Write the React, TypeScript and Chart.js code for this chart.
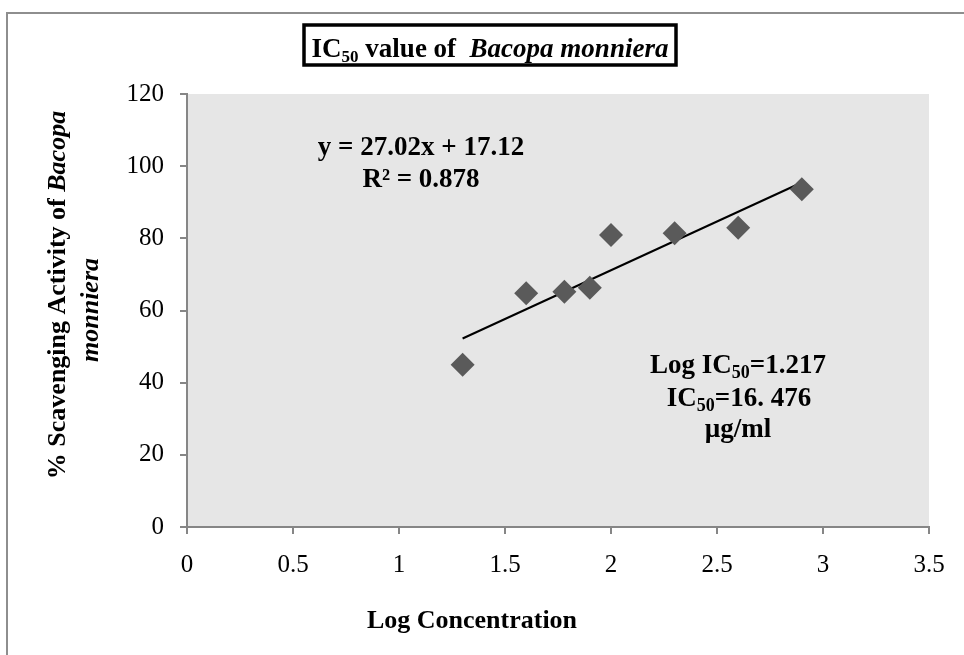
import React, { useEffect, useRef } from 'react';
import { Chart, registerables } from 'chart.js';

Chart.register(...registerables);

// ---- Data ----
const logConcentration = [1.3, 1.6, 1.78, 1.9, 2.0, 2.3, 2.6, 2.9];
const scavengingActivity = [45, 64.8, 65.2, 66.3, 80.9, 81.4, 82.9, 93.6];
const trendSlope = 27.02;
const trendIntercept = 17.12;
const xTickLabels = ['0', '0.5', '1', '1.5', '2', '2.5', '3', '3.5'];
const yTickLabels = ['0', '20', '40', '60', '80', '100', '120'];

const SERIF = '"Liberation Serif", "Times New Roman", serif';
const f = (style: string, size: number) => `${style} ${size}px ${SERIF}`;

type Seg = { t: string; f: string; dy?: number };

function drawRich(ctx: CanvasRenderingContext2D, segs: Seg[], cx: number, baseY: number) {
  let w = 0;
  for (const s of segs) {
    ctx.font = s.f;
    w += ctx.measureText(s.t).width;
  }
  let x = cx - w / 2;
  ctx.textAlign = 'left';
  ctx.textBaseline = 'alphabetic';
  for (const s of segs) {
    ctx.font = s.f;
    ctx.fillText(s.t, x, baseY + (s.dy || 0));
    x += ctx.measureText(s.t).width;
  }
  return w;
}

const decorPlugin = {
  id: 'decor',
  beforeDraw(chart: any) {
    const { ctx, chartArea: a } = chart;
    ctx.save();
    ctx.fillStyle = '#ffffff';
    ctx.fillRect(0, 0, chart.width, chart.height);
    ctx.fillStyle = '#e6e6e6';
    ctx.fillRect(a.left, a.top, a.right - a.left, a.bottom - a.top);
    ctx.strokeStyle = '#8e8e8e';
    ctx.lineWidth = 2;
    ctx.beginPath();
    ctx.moveTo(7, chart.height);
    ctx.lineTo(7, 13);
    ctx.lineTo(chart.width, 13);
    ctx.stroke();
    ctx.restore();
  },
  afterDraw(chart: any) {
    const { ctx } = chart;
    ctx.save();

    // Title box
    ctx.fillStyle = '#fff';
    ctx.fillRect(304, 25, 372, 40);
    ctx.strokeStyle = '#000';
    ctx.lineWidth = 3.5;
    ctx.strokeRect(304, 25, 372, 40);
    ctx.fillStyle = '#000';
    drawRich(ctx, [
      { t: 'IC', f: f('bold', 27) },
      { t: '50', f: f('bold', 17), dy: 5 },
      { t: ' value of  ', f: f('bold', 27) },
      { t: 'Bacopa monniera', f: f('italic bold', 27) },
    ], 490, 57);

    // Regression equation
    drawRich(ctx, [{ t: 'y = 27.02x + 17.12', f: f('bold', 27) }], 421, 155);
    drawRich(ctx, [{ t: 'R² = 0.878', f: f('bold', 27) }], 421, 187);

    // IC50 annotation
    drawRich(ctx, [
      { t: 'Log IC', f: f('bold', 27) },
      { t: '50', f: f('bold', 18), dy: 5 },
      { t: '=1.217', f: f('bold', 27) },
    ], 738, 373);
    drawRich(ctx, [
      { t: 'IC', f: f('bold', 27) },
      { t: '50', f: f('bold', 18), dy: 5 },
      { t: '=16. 476', f: f('bold', 27) },
    ], 739, 406);
    drawRich(ctx, [{ t: 'µg/ml', f: f('bold', 27) }], 738, 437);

    // X axis title
    drawRich(ctx, [{ t: 'Log Concentration', f: f('bold', 26) }], 472, 628);

    // Y axis title (rotated)
    ctx.save();
    ctx.translate(65, 295);
    ctx.rotate(-Math.PI / 2);
    drawRich(ctx, [
      { t: '% Scavenging Activity of ', f: f('bold', 26) },
      { t: 'Bacopa', f: f('italic bold', 26) },
    ], 0, 0);
    ctx.restore();
    ctx.save();
    ctx.translate(98, 310);
    ctx.rotate(-Math.PI / 2);
    drawRich(ctx, [{ t: 'monniera', f: f('italic bold', 26) }], 0, 0);
    ctx.restore();

    ctx.restore();
  },
};

export default function App() {
  const ref = useRef<HTMLCanvasElement | null>(null);

  useEffect(() => {
    document.body.style.margin = '0';
    const canvas = ref.current;
    if (!canvas) return;
    const xMin = Math.min(...logConcentration);
    const xMax = Math.max(...logConcentration);
    const trend = [
      { x: xMin, y: trendSlope * xMin + trendIntercept },
      { x: xMax, y: trendSlope * xMax + trendIntercept },
    ];
    const axisColor = '#868686';
    const chart = new Chart(canvas, {
      type: 'scatter',
      data: {
        datasets: [
          {
            type: 'line',
            label: 'Linear trend',
            data: trend,
            borderColor: '#000',
            borderWidth: 2,
            pointRadius: 0,
            fill: false,
            order: 2,
          } as any,
          {
            label: '% Scavenging Activity',
            data: logConcentration.map((x, i) => ({ x, y: scavengingActivity[i] })),
            pointStyle: 'rectRot',
            pointRadius: 12,
            pointBackgroundColor: '#5a5a5a',
            pointBorderColor: '#5a5a5a',
            pointBorderWidth: 0,
            order: 1,
          },
        ],
      },
      options: {
        animation: false,
        responsive: false,
        layout: { padding: { left: 0, right: 35, top: 94, bottom: 0 } },
        plugins: { legend: { display: false }, tooltip: { enabled: false } },
        scales: {
          x: {
            type: 'linear',
            min: 0,
            max: 3.5,
            afterFit: (s: any) => { s.height = 128; },
            ticks: {
              stepSize: 0.5,
              color: '#000',
              font: { family: SERIF, size: 25 },
              padding: 16,
              maxRotation: 0,
              callback: (_v: any, i: number) => xTickLabels[i],
            },
            grid: { drawOnChartArea: false, drawTicks: true, tickLength: 7, color: axisColor, lineWidth: 2 },
            border: { color: axisColor, width: 2 },
          },
          y: {
            type: 'linear',
            min: 0,
            max: 120,
            afterFit: (s: any) => { s.width = 187; },
            ticks: {
              stepSize: 20,
              color: '#000',
              font: { family: SERIF, size: 25 },
              padding: 16,
              callback: (_v: any, i: number) => yTickLabels[i],
            },
            grid: { drawOnChartArea: false, drawTicks: true, tickLength: 7, color: axisColor, lineWidth: 2 },
            border: { color: axisColor, width: 2 },
          },
        },
      },
      plugins: [decorPlugin],
    });
    return () => chart.destroy();
  }, []);

  return <canvas ref={ref} width={964} height={655} style={{ display: 'block' }} />;
}
